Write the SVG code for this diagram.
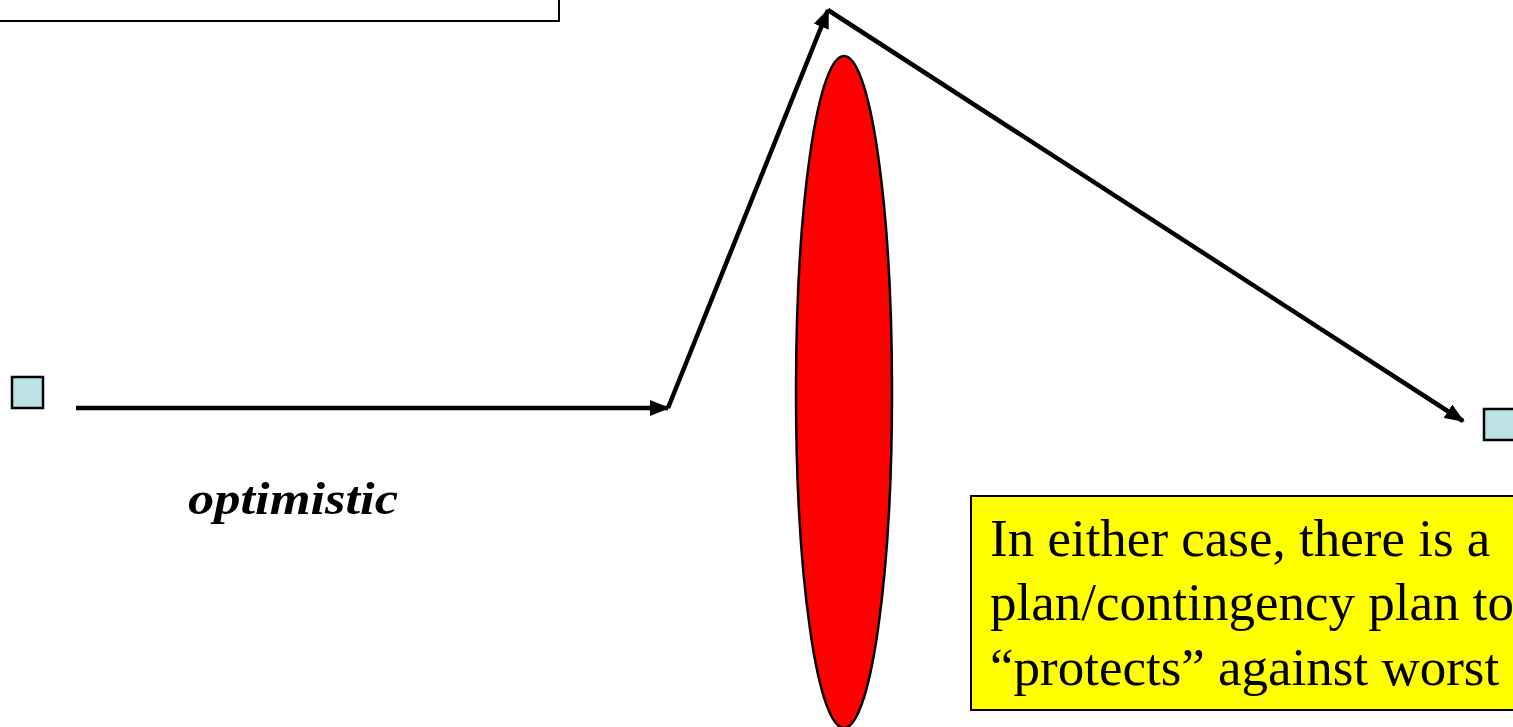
<svg xmlns="http://www.w3.org/2000/svg" width="1513" height="727" viewBox="0 0 1513 727">
<style>
.sq{fill:#bde2e6;stroke:#000;stroke-width:2.5}
.ln{fill:none;stroke:#000;stroke-width:4.5}
.t{fill:#000}
</style>
<defs>
<marker id="ah" markerWidth="20" markerHeight="16" refX="18" refY="8" orient="auto" markerUnits="userSpaceOnUse">
<path d="M0,0 L20,8 L0,16 Z" fill="#000"/>
</marker>
</defs>
<rect width="1513" height="727" fill="#fff"/>
<g id="topbox"><rect x="-10" y="-20" width="569" height="41" fill="#fff" stroke="#000" stroke-width="2"/></g>
<g id="ellipse"><ellipse cx="844" cy="392" rx="48" ry="336" fill="#ff0000" stroke="#000" stroke-width="2.5"/></g>
<g id="connectors">
<line class="ln" x1="76" y1="408" x2="668" y2="408" marker-end="url(#ah)"/>
<line class="ln" x1="668" y1="408" x2="828" y2="10" marker-end="url(#ah)"/>
<line class="ln" x1="828" y1="10" x2="1463" y2="421" marker-end="url(#ah)"/>
</g>
<g id="start"><rect class="sq" x="12" y="377" width="31" height="31"/></g>
<g id="end"><rect class="sq" x="1484" y="409" width="40" height="31"/></g>
<g id="label"><text class="t" x="188" y="514" font-family="'Liberation Serif', 'Times New Roman', serif" font-size="46" font-weight="bold" font-style="italic" textLength="210" lengthAdjust="spacingAndGlyphs">optimistic</text></g>
<g id="note">
<rect x="971" y="496" width="560" height="214" fill="#ffff00" stroke="#000" stroke-width="2"/>
<text class="t" font-family="'Liberation Serif', 'Times New Roman', serif" font-size="53"><tspan x="990" y="556">In either case, there is a</tspan><tspan x="990" y="620">plan/contingency plan to</tspan><tspan x="990" y="685">“protects” against worst</tspan></text>
</g>
</svg>
